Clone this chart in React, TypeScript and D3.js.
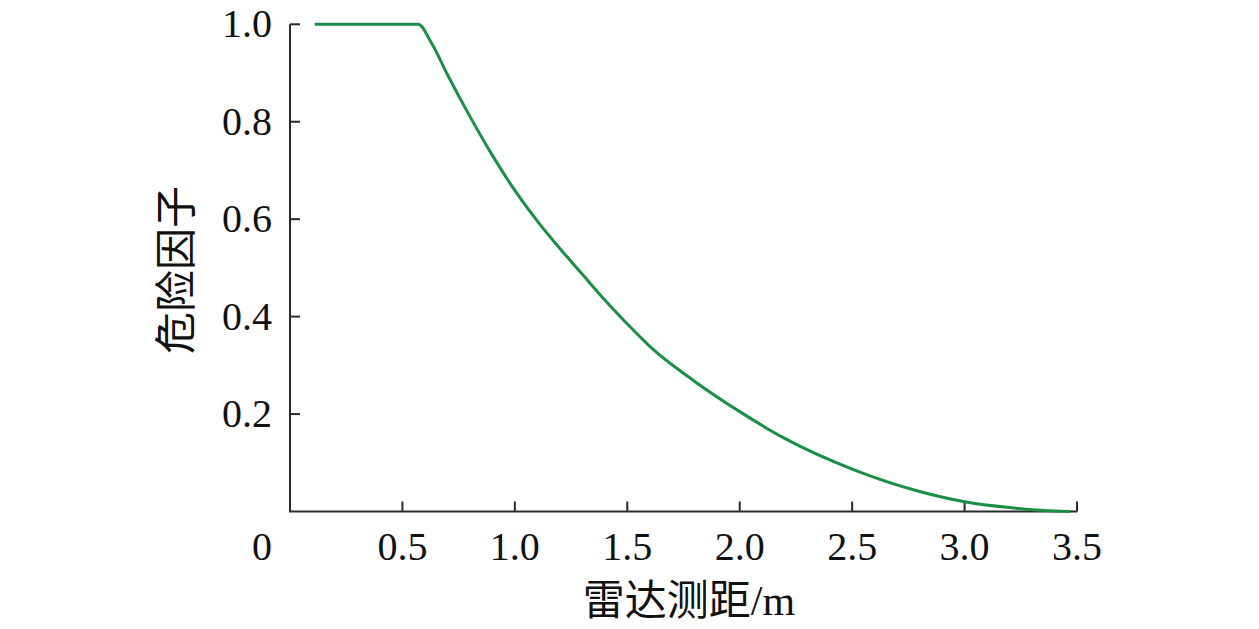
import * as d3 from "d3";

const width = 1259;
const height = 629;

// radar distance (m) and danger factor
const distance = [0.11, 0.57, 0.63, 0.7, 0.8, 0.9, 1.0, 1.1, 1.2, 1.3, 1.4, 1.5, 1.6, 1.8, 2.0, 2.2, 2.5, 2.8, 3.0, 3.2, 3.4, 3.47];
const danger = [1.0, 1.0, 0.961, 0.897, 0.811, 0.731, 0.659, 0.596, 0.54, 0.487, 0.434, 0.385, 0.339, 0.267, 0.205, 0.15, 0.087, 0.041, 0.02, 0.008, 0.001, 0];

const xTicks = [0.5, 1.0, 1.5, 2.0, 2.5, 3.0, 3.5];
const yTicks = [0.2, 0.4, 0.6, 0.8, 1.0];

const serif = "'Liberation Serif', 'Times New Roman', 'Noto Sans CJK SC', serif";

const App = () => {
  const x = d3.scaleLinear().domain([0, 3.5]).range([290, 1077]);
  const y = d3.scaleLinear().domain([0, 1]).range([511.5, 24.3]);

  const points = distance.map((d, i) => [d, danger[i]] as [number, number]);
  const line = d3
    .line<[number, number]>()
    .x((d) => x(d[0]))
    .y((d) => y(d[1]))
    .curve(d3.curveMonotoneX);

  const axisColor = "#2b2b2b";

  return (
    <svg
      width={width}
      height={height}
      style={{ position: "absolute", left: 0, top: 0, background: "#fff" }}
    >
      {/* axes */}
      <path
        d={`M${x(0)},${y(1)}H${x(0)}V${y(0)}H${x(3.5)}`}
        fill="none"
        stroke={axisColor}
        strokeWidth={2}
      />
      {yTicks.map((t) => (
        <g key={`y${t}`}>
          <line x1={x(0)} x2={x(0) + 10} y1={y(t)} y2={y(t)} stroke={axisColor} strokeWidth={2} />
          <text
            x={272}
            y={y(t) + 13}
            textAnchor="end"
            fontSize={40}
            fontFamily={serif}
            fill="#111"
          >
            {t.toFixed(1)}
          </text>
        </g>
      ))}
      {xTicks.map((t) => (
        <g key={`x${t}`}>
          <line x1={x(t)} x2={x(t)} y1={y(0)} y2={y(0) - 10} stroke={axisColor} strokeWidth={2} />
          <text
            x={x(t)}
            y={560}
            textAnchor="middle"
            fontSize={40}
            fontFamily={serif}
            fill="#111"
          >
            {t.toFixed(1)}
          </text>
        </g>
      ))}
      {/* shared origin label */}
      <text x={262} y={560} textAnchor="middle" fontSize={40} fontFamily={serif} fill="#111">
        0
      </text>

      {/* curve */}
      <path d={line(points) ?? ""} fill="none" stroke="#1b8f45" strokeWidth={3} />

      {/* axis titles */}
      <text
        x={689}
        y={615}
        textAnchor="middle"
        fontSize={42}
        fontFamily={serif}
        fill="#111"
      >
        雷达测距/m
      </text>
      <text
        transform="translate(191,270) rotate(-90)"
        textAnchor="middle"
        fontSize={42}
        fontFamily={serif}
        fill="#111"
      >
        危险因子
      </text>
    </svg>
  );
};

export default App;
